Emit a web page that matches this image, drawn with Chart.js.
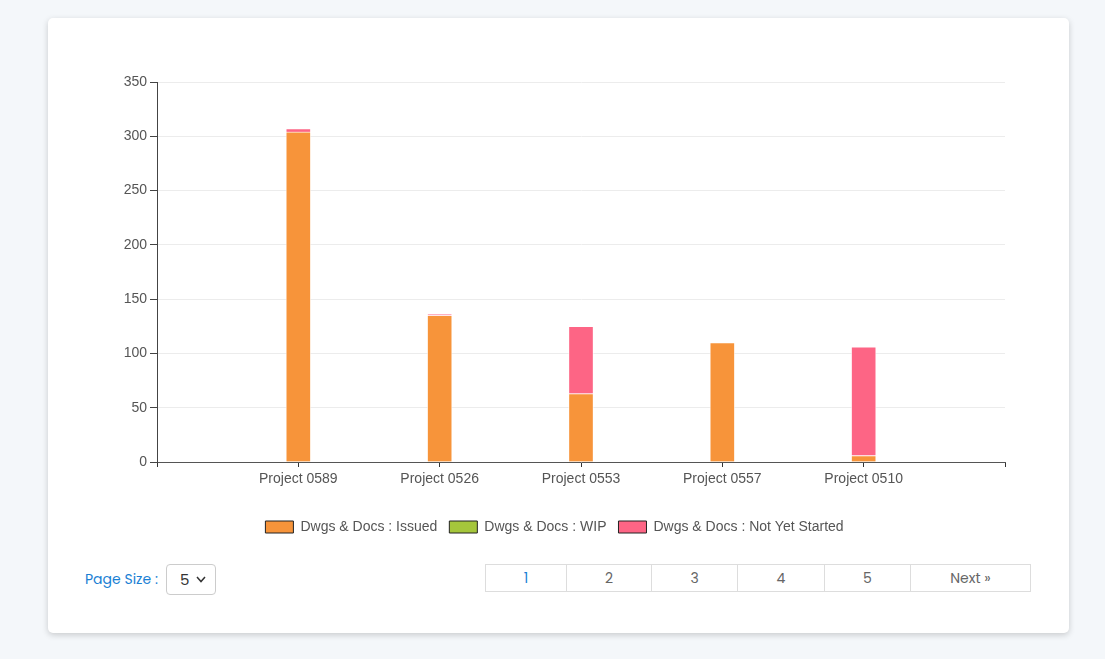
<!DOCTYPE html>
<html>
<head>
<meta charset="utf-8">
<script src="https://cdn.jsdelivr.net/npm/chart.js@4"></script>
<style>
    body {
        margin: 0;
        background: #f4f7fa;
        font-family: "Poppins", "Inter", "Open Sans", sans-serif;
    }
    .card {
        position: absolute;
        left: 48px;
        top: 18px;
        width: 1021px;
        height: 615px;
        background: #fff;
        border-radius: 5px;
        box-shadow: 0 2px 6px rgba(0, 0, 0, 0.18);
    }
    .chart-wrap {
        position: absolute;
        left: 60px;
        top: 55px;
        width: 990px;
        height: 495px;
    }
    .page-size {
        position: absolute;
        left: 85px;
        top: 564px;
        height: 31px;
        display: flex;
        align-items: center;
        color: #1a7fd4;
        font-size: 14px;
    }
    .page-size .select {
        margin-left: 8px;
        width: 50px;
        height: 31px;
        box-sizing: border-box;
        border: 1px solid #ccc;
        border-radius: 4px;
        color: #333;
        font-size: 15px;
        display: flex;
        align-items: center;
        padding-left: 13px;
    }
    .page-size .select svg {
        margin-left: 7px;
    }
    .pager {
        position: absolute;
        left: 486px;
        top: 564px;
        display: flex;
        height: 28px;
    }
    .pager div {
        box-sizing: border-box;
        height: 28px;
        border: 1px solid #ddd;
        margin-left: -1px;
        display: flex;
        align-items: center;
        justify-content: center;
        color: #666;
        font-size: 14px;
    }
    .pager div.active { color: #1a7fd4; }
</style>
</head>
<body>
<div class="card"></div>
<div class="chart-wrap"><canvas id="docs-chart"></canvas></div>

<div class="page-size">Page Size :<div class="select">5<svg width="10" height="7" viewBox="0 0 10 7"><polyline points="1,1 5,5.5 9,1" fill="none" stroke="#333" stroke-width="1.5"/></svg></div></div>
<div class="pager">
    <div class="active" style="width:82px">1</div>
    <div style="width:86px">2</div>
    <div style="width:87px">3</div>
    <div style="width:88px">4</div>
    <div style="width:87px">5</div>
    <div style="width:121px">Next &raquo;</div>
</div>

<script>
// Projects (blank slots at both ends keep the bars away from the axes)
const projects = ['', 'Project 0589', 'Project 0526', 'Project 0553', 'Project 0557', 'Project 0510', ''];
const issued = [null, 304, 135, 63, 110, 6, null];
const wip = [null, 0, 0, 0, 0, 0, null];
const notStarted = [null, 3, 1, 62, 0, 100, null];
const yTicks = [0, 50, 100, 150, 200, 250, 300, 350];

const FONT = "'Liberation Sans', Arial, sans-serif";

document.addEventListener('DOMContentLoaded', function() {
    initDocsChart();
});

function initDocsChart() {
    const ctx = document.getElementById('docs-chart');
    if (!ctx) return;

    new Chart(ctx.getContext('2d'), {
        type: 'bar',
        data: {
            labels: projects,
            datasets: [
                {
                    label: 'Dwgs & Docs : Issued',
                    data: issued,
                    backgroundColor: '#f7943a',
                    borderColor: 'rgba(255, 255, 255, 0.6)',
                    borderWidth: 1,
                    barThickness: 25
                },
                {
                    label: 'Dwgs & Docs : WIP',
                    data: wip,
                    backgroundColor: '#a5c63b',
                    borderColor: 'rgba(255, 255, 255, 0.6)',
                    borderWidth: 1,
                    barThickness: 25
                },
                {
                    label: 'Dwgs & Docs : Not Yet Started',
                    data: notStarted,
                    backgroundColor: '#fd6585',
                    borderColor: 'rgba(255, 255, 255, 0.6)',
                    borderWidth: 1,
                    barThickness: 25
                }
            ]
        },
        options: {
            responsive: true,
            maintainAspectRatio: false,
            animation: false,
            layout: {
                padding: { top: 27, right: 1, bottom: 6, left: 0 }
            },
            plugins: {
                tooltip: { enabled: false },
                legend: {
                    position: 'bottom',
                    labels: {
                        boxWidth: 28,
                        boxHeight: 12,
                        padding: 12,
                        color: '#555',
                        font: { family: FONT, size: 14 },
                        generateLabels: function(chart) {
                            const items = Chart.defaults.plugins.legend.labels.generateLabels(chart);
                            items.forEach(item => {
                                item.strokeStyle = '#222';
                                item.lineWidth = 1;
                            });
                            return items;
                        }
                    }
                }
            },
            scales: {
                x: {
                    stacked: true,
                    offset: false,
                    afterFit: function(scale) { scale.height = 46; },
                    grid: {
                        offset: false,
                        drawOnChartArea: false,
                        tickLength: 5,
                        tickColor: '#333'
                    },
                    border: { color: '#555' },
                    ticks: {
                        autoSkip: false,
                        maxRotation: 0,
                        color: '#555',
                        padding: 4,
                        font: { family: FONT, size: 14 }
                    }
                },
                y: {
                    stacked: true,
                    min: yTicks[0],
                    max: yTicks[yTicks.length - 1],
                    afterFit: function(scale) { scale.width = 97; },
                    afterBuildTicks: function(scale) {
                        scale.ticks = yTicks.map(v => ({ value: v }));
                    },
                    grid: {
                        color: '#ececec',
                        tickLength: 7,
                        tickColor: '#444'
                    },
                    border: { color: '#444' },
                    ticks: {
                        color: '#555',
                        padding: 3,
                        font: { family: FONT, size: 14 }
                    }
                },
                // empty right-hand spacer so the legend centres like the original
                spacer: {
                    position: 'right',
                    min: 0,
                    max: 1,
                    afterFit: function(scale) { scale.width = 44; },
                    grid: { display: false },
                    border: { display: false },
                    ticks: { display: false }
                }
            }
        }
    });
}
</script>
</body>
</html>
